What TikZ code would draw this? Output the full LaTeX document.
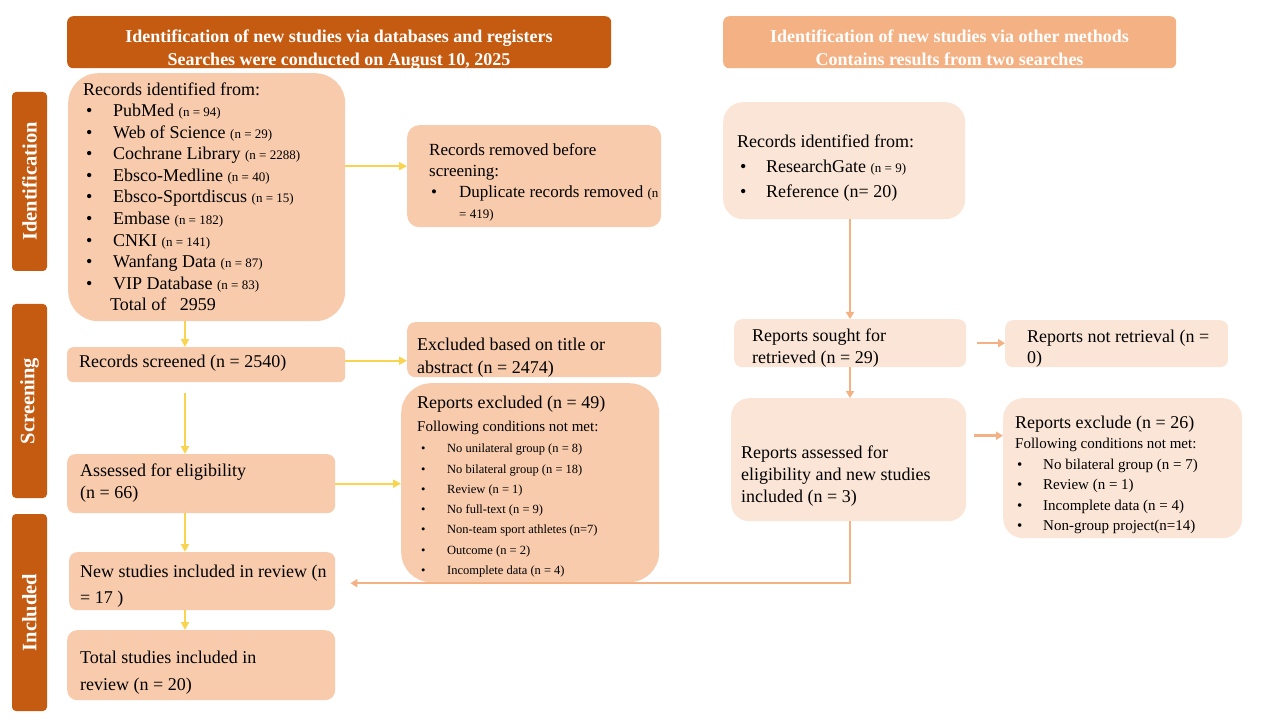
\documentclass[tikz,border=0pt]{standalone}
\usepackage{fontspec}
\setmainfont{Liberation Serif}
\usetikzlibrary{arrows.meta}

\definecolor{hdrDark}{HTML}{C55A11}
\definecolor{hdrLight}{HTML}{F4B183}
\definecolor{boxLeft}{HTML}{F8CBAD}
\definecolor{boxRight}{HTML}{FBE5D6}
\definecolor{arrYellow}{HTML}{F9D44F}

\newcommand{\sm}[1]{{\fontsize{13}{13}\selectfont #1}}
\newcommand{\bul}[2]{\hspace*{#1pt}\makebox[#2pt][l]{\textbullet}}

\begin{document}
\begin{tikzpicture}[x=1pt, y=-1pt,
	hdr/.style={fill=#1, rounded corners=6pt, inner sep=0pt, anchor=north west},
	hdrtext/.style={anchor=base, align=center, text=white, inner sep=0pt, font=\bfseries\fontsize{18}{23}\selectfont},
	side/.style={fill=hdrDark, rounded corners=4pt, rotate=90, minimum height=35, inner sep=0pt, text=white, font=\bfseries\fontsize{20.5}{20.5}\selectfont},
	box/.style={fill=#1, inner sep=0pt, anchor=north west},
	txt/.style={anchor=base west, align=left, inner sep=0pt, font=\fontsize{18}{21.6}\selectfont},
	yarr/.style={arrYellow, line width=2pt, -{Triangle[length=8pt, width=8pt]}},
	oarr/.style={hdrLight, line width=2.5pt, -{Triangle[length=7pt, width=8pt]}}]

	\useasboundingbox (0,0) rectangle (1262,722);

	\node[hdr=hdrDark, minimum width=544, minimum height=52] (hdrL) at (67,16) {};
	\node[hdrtext] (hdrLt) at (339,66) {Identification of new studies via databases and registers\\ Searches were conducted on August 10, 2025};
	\node[hdr=hdrLight, minimum width=453, minimum height=52] (hdrR) at (723,16) {};
	\node[hdrtext] (hdrRt) at (949.5,66) {Identification of new studies via other methods\\ Contains results from two searches};

	\node[side, minimum width=179] (sideId) at (29.5,181.5) {Identification};
	\node[side, minimum width=194] (sideSc) at (29.5,401) {Screening};
	\node[side, minimum width=197] (sideIn) at (29.5,612.5) {Included};

	\node[box=boxLeft, rounded corners=30pt, minimum width=277, minimum height=248] (recL) at (68,73) {};
	\node[box=boxLeft, rounded corners=12pt, minimum width=254, minimum height=102] (remL) at (407,125) {};
	\node[box=boxLeft, rounded corners=6pt, minimum width=278, minimum height=35] (scrL) at (67,347) {};
	\node[box=boxLeft, rounded corners=8pt, minimum width=254, minimum height=55] (excL) at (407,322) {};
	\node[box=boxLeft, rounded corners=30pt, minimum width=258, minimum height=199] (repL) at (401,383) {};
	\node[box=boxLeft, rounded corners=8pt, minimum width=268, minimum height=59] (eliL) at (67,454) {};
	\node[box=boxLeft, rounded corners=8pt, minimum width=266, minimum height=58] (newL) at (69,552) {};
	\node[box=boxLeft, rounded corners=10pt, minimum width=268, minimum height=70] (totL) at (67,630) {};

	\node[box=boxRight, rounded corners=20pt, minimum width=242, minimum height=117] (recR) at (723,102) {};
	\node[box=boxRight, rounded corners=8pt, minimum width=232, minimum height=48] (soughtR) at (734,319) {};
	\node[box=boxRight, rounded corners=8pt, minimum width=223, minimum height=47] (notR) at (1005,320) {};
	\node[box=boxRight, rounded corners=18pt, minimum width=235, minimum height=123] (assR) at (731,398) {};
	\node[box=boxRight, rounded corners=20pt, minimum width=239, minimum height=140] (excR) at (1003,398) {};

	\node[txt] (recLt) at (83,311) {Records identified from:\\
		\bul{3}{27}PubMed \sm{(n = 94)}\\
		\bul{3}{27}Web of Science \sm{(n = 29)}\\
		\bul{3}{27}Cochrane Library \sm{(n = 2288)}\\
		\bul{3}{27}Ebsco-Medline \sm{(n = 40)}\\
		\bul{3}{27}Ebsco-Sportdiscus \sm{(n = 15)}\\
		\bul{3}{27}Embase \sm{(n = 182)}\\
		\bul{3}{27}CNKI \sm{(n = 141)}\\
		\bul{3}{27}Wanfang Data \sm{(n = 87)}\\
		\bul{3}{27}VIP Database \sm{(n = 83)}\\
		\hspace*{27pt}Total of \ \ 2959};
	\node[txt, font=\fontsize{17}{21.3}\selectfont] (remLt) at (429,219) {Records removed before\\ screening:\\
		\bul{2}{28}Duplicate records removed \sm{(n}\\
		\hspace*{30pt}\sm{= 419)}};
	\node[txt] (scrLt) at (79,367) {Records screened (n = 2540)};
	\node[txt, font=\fontsize{18}{22}\selectfont] (excLt) at (417,373) {Excluded based on title or\\ abstract (n = 2474)};
	\node[txt, font=\fontsize{12.5}{20.3}\selectfont] (repLt) at (417,574.5) {{\fontsize{18}{18}\selectfont Reports excluded (n = 49)}\\[2.7pt]
		{\fontsize{15}{15}\selectfont Following conditions not met:}\\[1.2pt]
		\bul{4}{26}No unilateral group (n = 8)\\
		\bul{4}{26}No bilateral group (n = 18)\\
		\bul{4}{26}Review (n = 1)\\
		\bul{4}{26}No full-text (n = 9)\\
		\bul{4}{26}Non-team sport athletes (n=7)\\
		\bul{4}{26}Outcome (n = 2)\\
		\bul{4}{26}Incomplete data (n = 4)};
	\node[txt, font=\fontsize{18}{22}\selectfont] (eliLt) at (80,498) {Assessed for eligibility\\ (n = 66)};
	\node[txt, font=\fontsize{18}{26}\selectfont] (newLt) at (80,603) {New studies included in review (n\\ = 17 )};
	\node[txt, font=\fontsize{18}{27}\selectfont] (totLt) at (80,690) {Total studies included in\\ review (n = 20)};

	\node[txt, font=\fontsize{18}{25}\selectfont] (recRt) at (737,198) {Records identified from:\\
		\bul{3}{26}ResearchGate \sm{(n = 9)}\\
		\bul{3}{26}Reference (n= 20)};
	\node[txt, font=\fontsize{18}{22}\selectfont] (soughtRt) at (752,363) {Reports sought for\\ retrieved (n = 29)};
	\node[txt, font=\fontsize{18}{21}\selectfont] (notRt) at (1027,363) {Reports not retrieval (n =\\ 0)};
	\node[txt, font=\fontsize{18}{22}\selectfont] (assRt) at (741,502) {Reports assessed for\\ eligibility and new studies\\ included (n = 3)};
	\node[txt, font=\fontsize{15}{20.3}\selectfont] (excRt) at (1015,530.4) {{\fontsize{18}{18}\selectfont Reports exclude (n = 26)}\\[-0.3pt]
		Following conditions not met:\\[1.2pt]
		\bul{2}{26}No bilateral group (n = 7)\\
		\bul{2}{26}Review (n = 1)\\
		\bul{2}{26}Incomplete data (n = 4)\\
		\bul{2}{26}Non-group project(n=14)};

	\coordinate (colL) at (185,0);
	\coordinate (colR) at (850,0);
	\coordinate (remIn) at ([yshift=10pt]remL.west);
	\coordinate (scrOut) at ([yshift=4pt]scrL.east);
	\coordinate (scrDown) at ([yshift=-11pt]scrL.south);
	\coordinate (soughtOut) at ([xshift=11pt]soughtR.east);
	\coordinate (assOut) at ([xshift=8pt, yshift=24pt]assR.east);
	\coordinate (newIn) at ([xshift=15pt, yshift=-2pt]newL.east);

	\draw[yarr] (recL.east |- remIn) -- (remIn);
	\draw[yarr] (recL.south -| colL) -- (scrL.north -| colL);
	\draw[yarr] (scrOut) -- (scrOut -| excL.west);
	\draw[yarr] (scrDown -| colL) -- (eliL.north -| colL);
	\draw[yarr] (eliL.east) -- (eliL.east -| repL.west);
	\draw[yarr] (eliL.south -| colL) -- (newL.north -| colL);
	\draw[yarr] (newL.south -| colL) -- (totL.north -| colL);

	\draw[oarr] (recR.south -| colR) -- (soughtR.north -| colR);
	\draw[oarr] (soughtOut) -- (soughtOut -| notR.west);
	\draw[oarr] (soughtR.south -| colR) -- (assR.north -| colR);
	\draw[oarr] (assOut) -- (assOut -| excR.west);
	\draw[oarr] (assR.south -| colR) |- (newIn);
\end{tikzpicture}
\end{document}
